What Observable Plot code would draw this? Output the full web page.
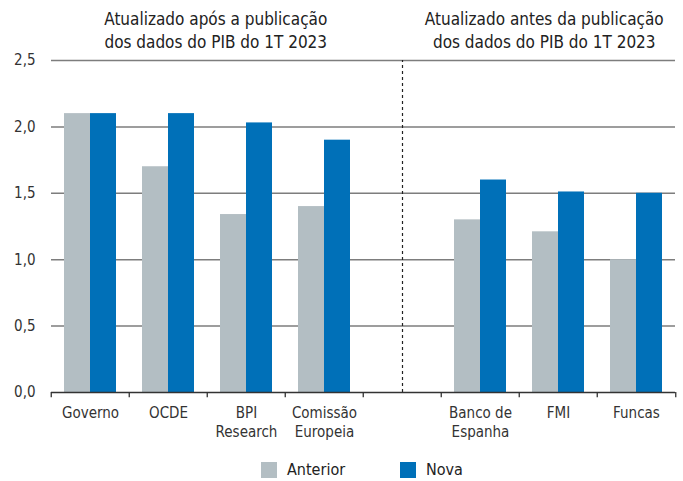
<!DOCTYPE html>
<html>
<head>
<meta charset="utf-8">
<script src="https://cdn.jsdelivr.net/npm/d3@7"></script>
<script src="https://cdn.jsdelivr.net/npm/@observablehq/plot@0.6"></script>
<style>
  html, body { margin: 0; padding: 0; background: #fff; }
  #wrap { position: relative; width: 683px; height: 481px; font-family: "Liberation Sans Narrow", "DejaVu Sans Condensed", sans-serif; }
  #legend { position: absolute; left: 0; top: 462px; width: 683px; height: 16px; font-size: 16px; color: #222; }
  .sw { position: absolute; top: 0; width: 16px; height: 16px; }
  .lb { position: absolute; top: -2px; line-height: 20px; }
</style>
</head>
<body>
<div id="wrap"><div id="chart"></div><div id="legend"></div></div>
<script>
// Data
const groups = ["Governo", "OCDE", "BPI Research", "Comissão Europeia", " ", "Banco de Espanha", "FMI", "Funcas"];
const groupLabels = ["Governo", "OCDE", "BPI\nResearch", "Comissão\nEuropeia", "", "Banco de\nEspanha", "FMI", "Funcas"];
const organizations = ["Governo", "OCDE", "BPI Research", "Comissão Europeia", "Banco de Espanha", "FMI", "Funcas"];
const anterior = [2.1, 1.7, 1.34, 1.4, 1.3, 1.21, 1.0];
const nova = [2.1, 2.1, 2.03, 1.9, 1.6, 1.51, 1.5];
const series = ["Anterior", "Nova"];
const seriesColors = ["#b3bec3", "#0070b8"];
const yTicks = [0, 0.5, 1.0, 1.5, 2.0, 2.5];
const titles = ["Atualizado após a publicação\ndos dados do PIB do 1T 2023", "Atualizado antes da publicação\ndos dados do PIB do 1T 2023"];

const data = organizations.flatMap((org, i) => [
  {org, serie: "Anterior", value: anterior[i]},
  {org, serie: "Nova", value: nova[i]}
]);

const W = 683, ML = 49, MR = 6;
const bandW = (W - ML - MR) / groups.length;
const labelOf = new Map(groups.map((g, i) => [g, groupLabels[i]]));
const fmt = d => d3.format(".1f")(d).replace(".", ",");

const chart = Plot.plot({
  width: W,
  height: 450,
  marginLeft: ML,
  marginRight: MR,
  marginTop: 60,
  marginBottom: 58,
  style: {fontFamily: '"Liberation Sans Narrow", "DejaVu Sans Condensed", sans-serif', fontSize: "15px", color: "#333"},
  fx: {domain: groups, padding: 0, label: null, axis: null},
  x: {domain: series, paddingInner: 0, paddingOuter: 0.5, axis: null},
  y: {domain: [0, 2.5], axis: null},
  color: {domain: series, range: seriesColors},
  marks: [
    Plot.ruleY(yTicks.filter(d => d > 0), {stroke: "#7d7d7d", strokeWidth: 1.5}),
    Plot.barY(data, {fx: "org", x: "serie", y: "value", fill: "serie"}),
    Plot.ruleX([" "], {fx: d => d, x: null, y1: 0, y2: 2.5, stroke: "#222", strokeWidth: 1.2, strokeDasharray: "3,3"}),
    Plot.ruleY([0], {stroke: "#333", strokeWidth: 1.5}),
    Plot.ruleX(groups, {fx: d => d, x: null, y1: 0, y2: -0.04, dx: -bandW / 2, stroke: "#333", strokeWidth: 1.3}),
    Plot.ruleX([groups[groups.length - 1]], {fx: d => d, x: null, y1: 0, y2: -0.04, dx: bandW / 2, stroke: "#333", strokeWidth: 1.3}),
    Plot.axisY({ticks: yTicks, tickSize: 0, tickPadding: 16, tickFormat: fmt, fontSize: 15, fill: "#333", label: null}),
    Plot.text(groups, {fx: d => d, x: null, frameAnchor: "bottom", text: d => labelOf.get(d), lineAnchor: "top", dy: 12, fontSize: 15, fill: "#333", lineHeight: 1.25}),
    Plot.text([titles[0]], {fx: () => "BPI Research", x: null, frameAnchor: "top", text: d => d, lineAnchor: "bottom", dy: -13, dx: -30.75, fontSize: 17, fill: "#222", lineHeight: 1.3}),
    Plot.text([titles[1]], {fx: () => "FMI", x: null, frameAnchor: "top", text: d => d, lineAnchor: "bottom", dy: -13, dx: -14.25, fontSize: 17, fill: "#222", lineHeight: 1.3})
  ]
});
document.getElementById("chart").appendChild(chart);

const legend = document.getElementById("legend");
const swX = [261, 400];
series.forEach((s, i) => {
  const sw = document.createElement("div");
  sw.className = "sw"; sw.style.left = swX[i] + "px"; sw.style.background = seriesColors[i];
  const lb = document.createElement("div");
  lb.className = "lb"; lb.style.left = (swX[i] + 26) + "px"; lb.textContent = s;
  legend.appendChild(sw); legend.appendChild(lb);
});
</script>
</body>
</html>
